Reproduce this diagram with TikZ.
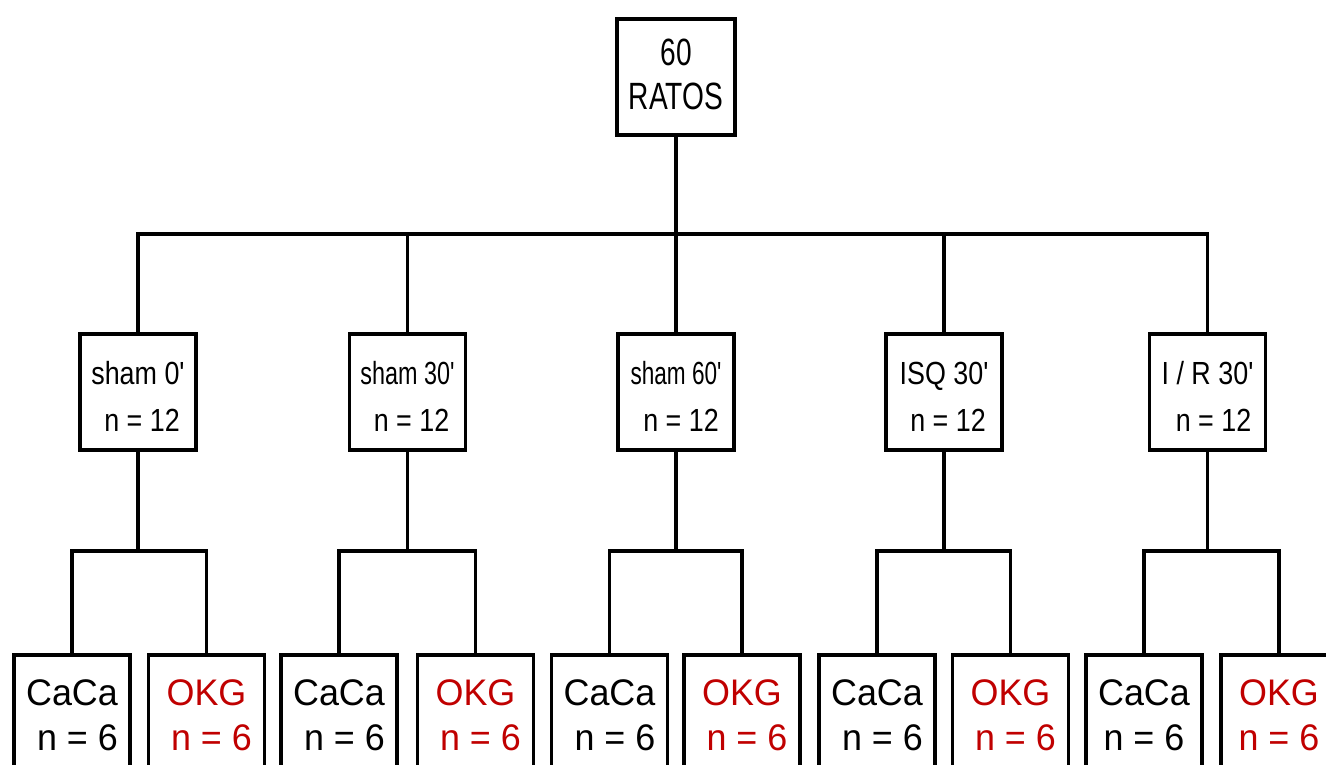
\documentclass[tikz,border=0pt]{standalone}
\usepackage{fontspec}
\setmainfont{Liberation Sans}
\newfontfamily\topfont[FakeStretch=0.74]{Liberation Sans}
\newfontfamily\midfont[FakeStretch=0.84]{Liberation Sans}
\newfontfamily\botfont[FakeStretch=0.97]{Liberation Sans}
\definecolor{okred}{RGB}{192,0,0}
\newcommand{\twoline}[3]{\raisebox{#1}[\height][\depth]{\begin{tabular}{@{}c@{}}#2\\#3\end{tabular}}}
\begin{document}
\begin{tikzpicture}[x=1pt,y=-1pt,
  line width=3.8pt,
  box/.style={draw, rectangle, inner sep=0pt, align=center},
  topbox/.style={box, minimum width=118pt, minimum height=116pt, font=\topfont\fontsize{38}{44}\selectfont},
  midbox/.style={box, minimum width=116pt, minimum height=116pt, font=\midfont\fontsize{32}{47}\selectfont},
  botbox/.style={box, minimum width=116pt, minimum height=120pt, font=\botfont\fontsize{37}{45}\selectfont},
  redtext/.style={text=okred},
  link/.style={draw, line cap=rect, line join=miter}]
\useasboundingbox (0,0) rectangle (1326,765);
\clip (0,0) rectangle (1326,765);
% top
\node[topbox] (top) at (676,77) {\twoline{-1.5pt}{60}{RATOS}};
\coordinate (bar) at (0,234);
\coordinate (bbar) at (0,551);
% middle
\node[midbox] (m1) at (138,392) {\twoline{-6.5pt}{sham 0'}{\hspace*{8pt}n = 12}};
\node[midbox] (m2) at (407.5,392) {\twoline{-6.5pt}{\scalebox{0.87}[1]{sham 30'}}{\hspace*{8pt}n = 12}};
\node[midbox] (m3) at (676,392) {\twoline{-6.5pt}{\scalebox{0.84}[1]{sham 60'}}{\hspace*{10pt}n = 12}};
\node[midbox] (m4) at (944,392) {\twoline{-6.5pt}{ISQ 30'}{\hspace*{8pt}n = 12}};
\node[midbox] (m5) at (1207.5,392) {\twoline{-6.5pt}{I / R 30'}{\hspace*{12pt}n = 12}};
% bottom
\node[botbox] (c1) at (72,715) {CaCa\\\hspace*{11pt}n = 6};
\node[botbox, redtext] (o1) at (206.5,715) {OKG\\\hspace*{10pt}n = 6};
\node[botbox] (c2) at (339,715) {CaCa\\\hspace*{11pt}n = 6};
\node[botbox, redtext] (o2) at (475.5,715) {OKG\\\hspace*{10pt}n = 6};
\node[botbox] (c3) at (609.5,715) {CaCa\\\hspace*{11pt}n = 6};
\node[botbox, redtext] (o3) at (742,715) {OKG\\\hspace*{10pt}n = 6};
\node[botbox] (c4) at (877,715) {CaCa\\\hspace*{11pt}n = 6};
\node[botbox, redtext] (o4) at (1010.5,715) {OKG\\\hspace*{10pt}n = 6};
\node[botbox] (c5) at (1144,715) {CaCa\\n = 6};
\node[botbox, redtext] (o5) at (1279,715) {OKG\\n = 6};
% connectors top level
\path[link] (top.south) -- (top.south |- bar);
\path[link] (m1.north) -- (m1.north |- bar) -- (m5.north |- bar) -- (m5.north);
\foreach \i in {2,3,4} {
  \path[link] (m\i.north) -- (m\i.north |- bar);
}
% connectors bottom level
\foreach \i in {1,...,5} {
  \path[link] (m\i.south) -- (m\i.south |- bbar);
  \path[link] (c\i.north) -- (c\i.north |- bbar) -- (o\i.north |- bbar) -- (o\i.north);
}
\end{tikzpicture}
\end{document}
